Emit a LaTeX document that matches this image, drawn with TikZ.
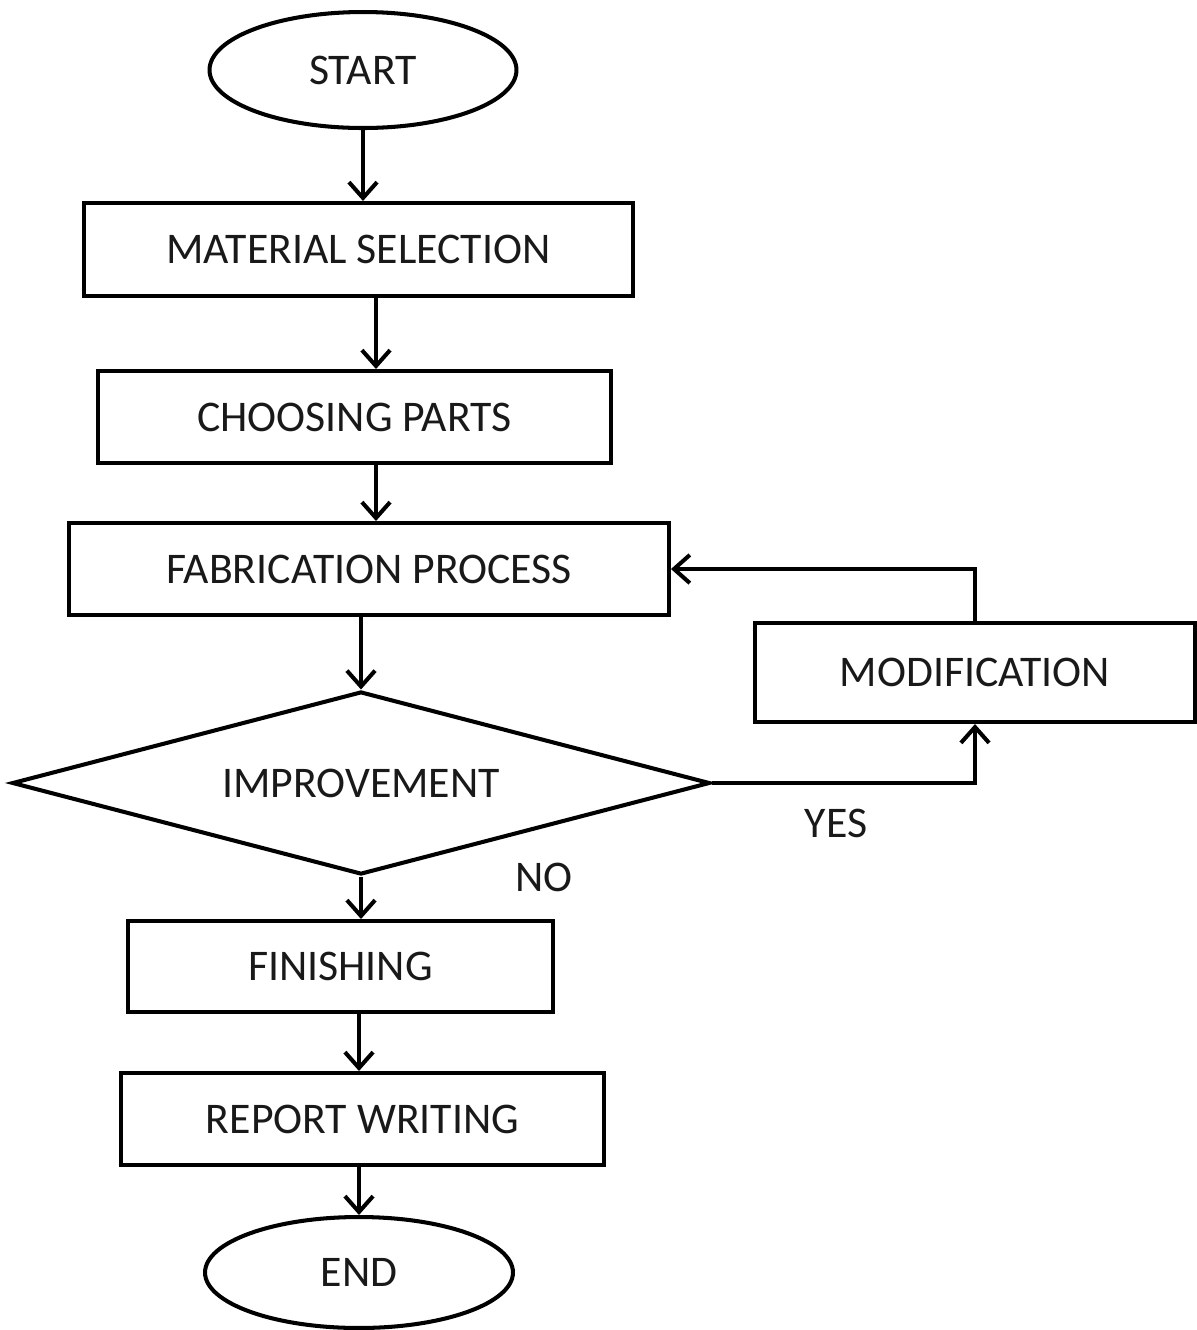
\documentclass[tikz,border=0pt]{standalone}
\usepackage{fontspec}
\setmainfont{Carlito}
\usetikzlibrary{shapes.geometric,arrows.meta,calc}
\begin{document}
\begin{tikzpicture}[x=0.02cm,y=-0.02cm,
  every node/.style={font=\fontsize{24.9}{29}\selectfont, text=black!90},
  box/.style={draw, line width=2.3pt, inner sep=0pt},
  oval/.style={draw, ellipse, line width=2.3pt, inner sep=0pt},
  arr/.style={line width=2.3pt, -{Straight Barb[length=9pt,width=16pt,line width=2.3pt]}}]
\useasboundingbox (0,0) rectangle (1197,1330);
\node[oval, minimum width=6.14cm, minimum height=2.32cm] (start) at (363,70) {START};
\node[box, minimum width=10.98cm, minimum height=1.86cm] (mat) at (358.5,249.5) {MATERIAL SELECTION};
\node[box, minimum width=10.26cm, minimum height=1.84cm] (cho) at (354.5,417) {CHOOSING PARTS};
\node[box, minimum width=12cm, minimum height=1.84cm] (fab) at (369,569) {FABRICATION PROCESS};
\node[box, minimum width=8.8cm, minimum height=1.98cm] (mod) at (975,672.5) {MODIFICATION};
\node[box, shape=diamond, aspect=3.8, minimum width=13.96cm, minimum height=3.66cm] (imp) at (361,783) {IMPROVEMENT};
\node[box, minimum width=8.5cm, minimum height=1.82cm] (fin) at (340.5,966.5) {FINISHING};
\node[box, minimum width=9.66cm, minimum height=1.84cm] (rep) at (362.5,1119) {REPORT WRITING};
\node[oval, minimum width=6.16cm, minimum height=2.22cm] (end) at (359,1272.5) {END};
\node (yes) at (836,823) {YES};
\node (no) at (544,877) {NO};
\coordinate (m1) at ([xshift=0.43cm]cho.north);
\draw[arr] (start.south) -- (start.south |- mat.north);
\draw[arr] (m1 |- mat.south) -- (m1);
\draw[arr] (m1 |- cho.south) -- (m1 |- fab.north);
\draw[arr] (imp.north |- fab.south) -- (imp.north);
\draw[arr] (imp.south) -- (imp.south |- fin.north);
\draw[arr] (end |- fin.south) -- (end |- rep.north);
\draw[arr] (end |- rep.south) -- (end.north);
\draw[arr] (imp.east) -| (mod.south);
\draw[arr] (mod.north) |- (fab.east);
\end{tikzpicture}
\end{document}
